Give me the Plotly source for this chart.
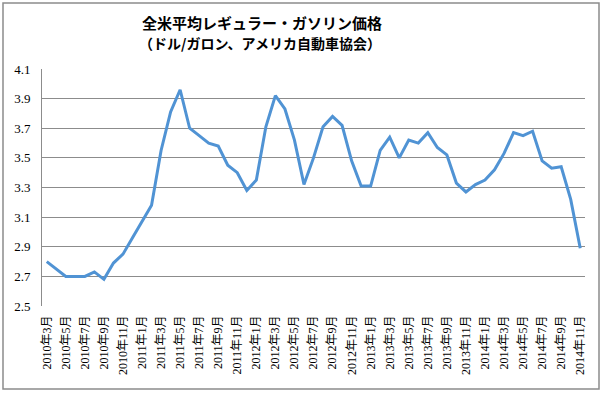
import plotly.graph_objects as go

months = []
for y in range(2010, 2015):
    for m in range(1, 13):
        if (y == 2010 and m < 3) or (y == 2014 and m > 11):
            continue
        months.append(f"{y}年{m}月")

prices = [2.80, 2.75, 2.70, 2.70, 2.70, 2.73, 2.68, 2.79, 2.85, 2.96,
          3.07, 3.18, 3.55, 3.81, 3.96, 3.70, 3.65, 3.60, 3.58, 3.45,
          3.40, 3.28, 3.35, 3.71, 3.92, 3.83, 3.62, 3.32, 3.50, 3.71,
          3.78, 3.72, 3.48, 3.31, 3.31, 3.55, 3.64, 3.50, 3.62, 3.60,
          3.67, 3.57, 3.52, 3.33, 3.27, 3.32, 3.35, 3.42, 3.53, 3.67,
          3.65, 3.68, 3.48, 3.43, 3.44, 3.22, 2.89]

y_ticks = [2.5, 2.7, 2.9, 3.1, 3.3, 3.5, 3.7, 3.9, 4.1]
x_ticks = months[::2]

title_line1 = "全米平均レギュラー・ガソリン価格"
title_line2 = "（ドル/ガロン、アメリカ自動車協会）"

L, R, T, B = 42, 585, 69, 306
W, H = R - L, B - T

fig = go.Figure()
fig.add_trace(go.Scatter(
    x=months, y=prices, mode="lines",
    line=dict(color="#5093d4", width=3),
    hoverinfo="x+y", showlegend=False,
))

fig.update_layout(
    width=604, height=396,
    margin=dict(l=L, r=604 - R, t=T, b=396 - B, autoexpand=False),
    paper_bgcolor="white", plot_bgcolor="white",
    xaxis=dict(
        type="category", range=[-0.5, len(months) - 0.5],
        tickmode="array", tickvals=x_ticks, ticktext=x_ticks,
        tickangle=-90, showgrid=False, ticks="",
        showline=False, zeroline=False,
        ticklabelstandoff=6,
        tickfont=dict(family="Liberation Serif, Noto Sans CJK JP", size=12, color="#000000"),
    ),
    yaxis=dict(
        range=[2.5, 4.1], tickmode="array", tickvals=y_ticks,
        ticktext=[f"{v:.1f}" for v in y_ticks],
        showgrid=True, gridcolor="#8c8c8c", gridwidth=1,
        showline=True, linecolor="#8c8c8c", linewidth=1,
        zeroline=False, ticks="", ticklabelstandoff=8,
        tickfont=dict(family="Liberation Serif", size=13, color="#000000"),
    ),
    annotations=[
        dict(text=title_line1, xref="paper", yref="paper",
             x=(262 - L) / W, y=(B - 23) / H, xanchor="center", yanchor="middle",
             showarrow=False,
             font=dict(family="Noto Sans CJK JP", size=15, color="#000000", weight="bold")),
        dict(text=title_line2, xref="paper", yref="paper",
             x=(260 - L) / W, y=(B - 43) / H, xanchor="center", yanchor="middle",
             showarrow=False,
             font=dict(family="Noto Sans CJK JP", size=14, color="#000000", weight="bold")),
    ],
    shapes=[dict(type="rect", xref="paper", yref="paper",
                 x0=(3 - L) / W, x1=(599 - L) / W,
                 y0=(B - 389) / H, y1=(B - 3) / H,
                 line=dict(color="#8c8c8c", width=1.5), layer="above")],
)

fig.write_html("out.html", config={"displayModeBar": False},
               post_script="document.body.style.margin='0';document.body.style.padding='0';")
